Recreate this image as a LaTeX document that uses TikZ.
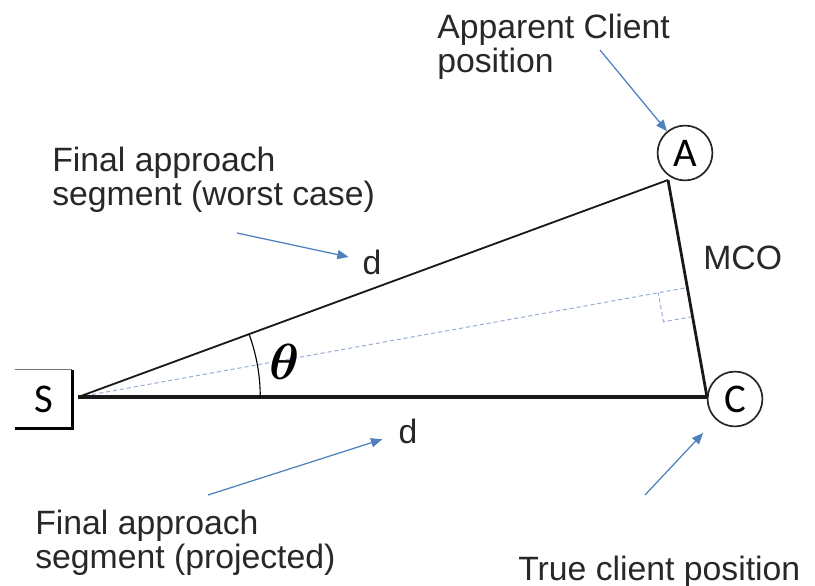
\documentclass[tikz,border=0pt]{standalone}
\usepackage{amsmath}
\usepackage{amssymb}
\usepackage{bm}
\usepackage{fontspec}
\setmainfont{Liberation Sans}
\newfontfamily\calib{Carlito}
\usepackage{tikz}
\usetikzlibrary{positioning,calc,arrows.meta}
\definecolor{arrowblue}{RGB}{79,129,189}
\definecolor{dashblue}{RGB}{150,172,212}
\definecolor{txtgray}{RGB}{40,40,40}

\begin{document}
\begin{tikzpicture}[x=0.025cm,y=-0.025cm,
	txt/.style={font=\fontsize{24}{24}\selectfont, text=txtgray, inner sep=0pt, align=left},
	vertex/.style={circle, draw=black!85, line width=1.2pt, minimum size=39pt, inner sep=0pt, font=\calib\fontsize{29}{29}\selectfont},
	side/.style={draw=black!90, line width=#1},
	hint/.style={dashblue, dash pattern=on 3pt off 2pt, line width=0.7pt},
	pointer/.style={draw=arrowblue, line width=0.9pt, -{Triangle[length=8pt,width=6.5pt]}}]
	
	\useasboundingbox (0,0) rectangle (815,585);
	
	\node[minimum width=40.5pt, minimum height=41pt, inner sep=0pt, font=\calib\fontsize{29}{29}\selectfont] (S) at (43.5,399) {S};
	\draw[black!55, line width=0.6pt] (S.north west) -- (S.north east);
	\draw[line width=2pt] (S.north east) |- (S.south west);
	
	\node[vertex] (A) at (685,153) {A};
	\node[vertex] (C) at (735,399) {C};
	
	\coordinate (s) at ($(S.east)+(6,-2)$);
	\coordinate (a) at ($(A)+(-17,27)$);
	\coordinate (c) at ($(C)+(-28,-2)$);
	\coordinate (f) at ($(a)!(s)!(c)$);
	\coordinate (r1) at ($(f)!21pt!(c)$);
	\coordinate (r3) at ($(f)!21pt!(s)$);
	
	\draw[hint] (s) -- (f);
	\draw[hint] (r1) -- ($(r1)+(r3)-(f)$) -- (r3);
	\draw[side=2.2pt] (s) -- (c);
	\draw[side=1.3pt] (s) -- (a);
	\draw[side=2pt] (a) -- (c);
	\draw[line width=0.8pt] ($(s)+(182,0)$) arc[start angle=0, end angle=-20.2, radius=182];
	
	\node[scale=1.45, font=\fontsize{24}{24}\selectfont] (theta) at (285,362) {$\boldsymbol{\theta}$};
	\node[txt] (d1) at (372,262) {d};
	\node[txt] (d2) at (408,431) {d};
	\node[txt, anchor=west] (mco) at (703,258) {MCO};
	
	\node[txt, anchor=north west] (apparent) at (437,14) {Apparent Client\\position};
	\node[txt, anchor=north west] (worst) at (52,147) {Final approach\\segment (worst case)};
	\node[txt, anchor=north west] (projected) at (35,510) {Final approach\\segment (projected)};
	\node[txt, anchor=base west] (true) at (518,580) {True client position};
	
	\coordinate (t1) at (600,50);
	\coordinate (t2) at (237,233);
	\coordinate (t3) at (208,495);
	\coordinate (t4) at (645,495);
	\draw[pointer] (t1) -- (A);
	\draw[pointer, shorten >=10pt] (t2) -- (d1);
	\draw[pointer, shorten >=12pt] (t3) -- (d2);
	\draw[pointer, shorten >=13pt] (t4) -- (C);
\end{tikzpicture}
\end{document}
